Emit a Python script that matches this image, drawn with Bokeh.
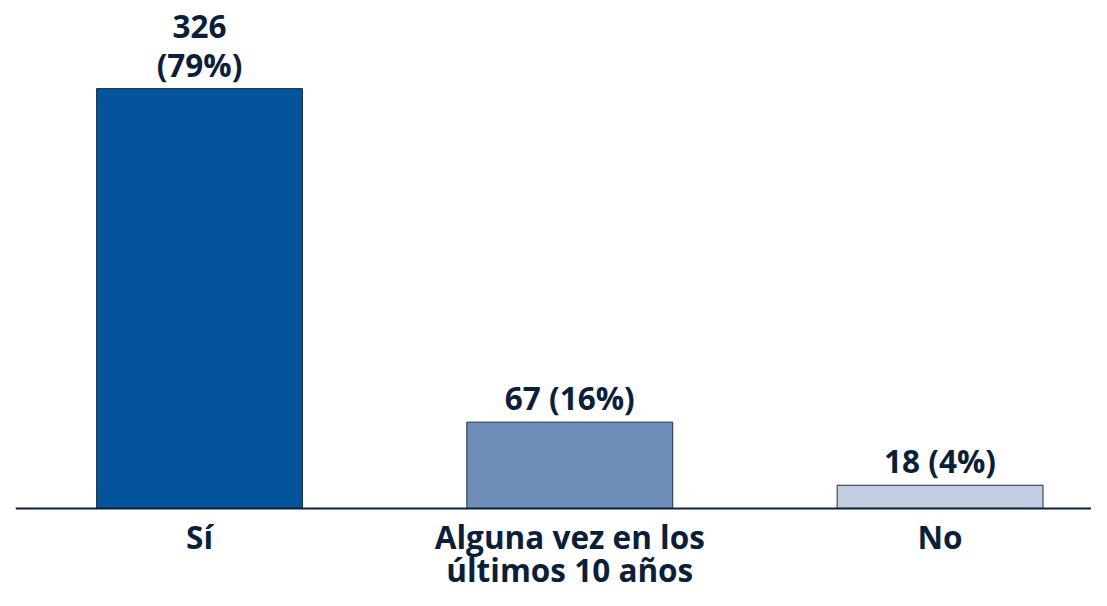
from bokeh.plotting import figure
from bokeh.models import ColumnDataSource, Range1d, Span
from bokeh.core.properties import value
from bokeh.embed import file_html
from bokeh.resources import INLINE

categories = ["Sí", "Alguna vez en los\núltimos 10 años", "No"]
counts = [326, 67, 18]
percents = [79, 16, 4]
bar_colors = ["#03549B", "#6F8DB9", "#C2CEE1"]
labels = ["326\n(79%)", "67 (16%)", "18 (4%)"]

TEXT = "#0B1E3A"
FONT = "Open Sans"

xs = list(range(len(categories)))
zeros = [0] * len(xs)
src = ColumnDataSource(dict(x=xs, top=counts, zero=zeros, color=bar_colors,
                            label=labels, cat=categories))

p = figure(width=1091, height=590, output_backend="svg", toolbar_location=None,
           x_range=Range1d(-0.497, 2.409), y_range=Range1d(-63.7, 394.4),
           min_border_left=15, min_border_right=0, min_border_top=0, min_border_bottom=0)
p.outline_line_color = None
p.grid.visible = False
p.xaxis.visible = False
p.yaxis.visible = False

p.vbar(x="x", top="top", width=0.556, bottom=0, fill_color="color",
       line_color="#1A2B45", line_width=1, source=src)

p.add_layout(Span(location=0, dimension="width", line_color=TEXT, line_width=2))

p.text(x="x", y="top", text="label", source=src, text_align="center",
       text_baseline="bottom", y_offset=-3, text_font=value(FONT),
       text_font_style="bold", text_font_size="31.5px", text_color=TEXT,
       text_line_height=0.905)

p.text(x="x", y="zero", text="cat", source=src, text_align="center",
       text_baseline="top", y_offset=7, text_font=value(FONT),
       text_font_style="bold", text_font_size="31.5px", text_color=TEXT,
       text_line_height=0.75)

open("out.html", "w").write(file_html(p, INLINE))
